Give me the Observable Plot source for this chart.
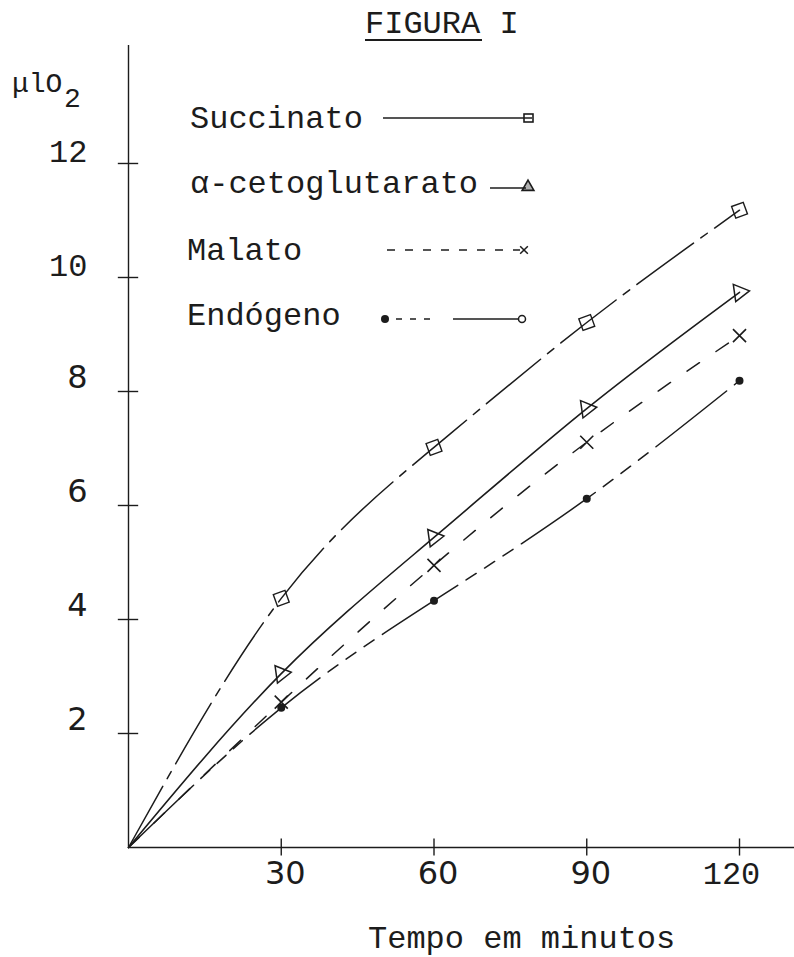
<!DOCTYPE html>
<html>
<head>
<meta charset="utf-8">
<script src="https://cdn.jsdelivr.net/npm/d3@7"></script>
<script src="https://cdn.jsdelivr.net/npm/@observablehq/plot@0.6"></script>
<style>
  html, body { margin: 0; padding: 0; background: #fff; }
  svg { display: block; }
</style>
</head>
<body>
<div id="chart"></div>
<script>
// ---- data ----
const times = [0, 30, 60, 90, 120];
const succinato = [0, 4.37, 7.02, 9.21, 11.18];
const cetoglutarato = [0, 3.05, 5.44, 7.70, 9.74];
const malato = [0, 2.55, 4.95, 7.11, 8.98];
const endogeno = [0, 2.45, 4.33, 6.12, 8.19];
const seriesNames = ["Succinato", "α-cetoglutarato", "Malato", "Endógeno"];
const xTicksSans = [30, 60, 90];
const xTicksMono = [120];
const yTicksSans = [2, 4, 6, 8];
const yTicksMono = [10, 12];
const titleText = "FIGURA I";
const yLabel = "μlO";
const yLabelSub = "2";
const xLabel = "Tempo em minutos";

const INK = "#1c1c1c";
const MONO = "'Liberation Mono', 'DejaVu Sans Mono', monospace";
const SANS = "'DejaVu Sans', sans-serif";

const toRows = (vals) => times.map((t, i) => ({t, v: vals[i]}));
const pts = (vals) => toRows(vals).filter(d => d.t > 0);

const allTicksY = [...yTicksSans, ...yTicksMono];
const allTicksX = [...xTicksSans, ...xTicksMono];
const fmt = d => String(d);

const svg = Plot.plot({
  width: 794,
  height: 957,
  marginLeft: 128,
  marginRight: 0,
  marginTop: 45,
  marginBottom: 110,
  x: {domain: [0, 130.8], axis: null, label: null},
  y: {domain: [0, 14.07], axis: null, label: null},
  style: {background: "#fff", color: INK},
  marks: [
    // axes
    Plot.ruleX([0], {stroke: INK, strokeWidth: 1.4}),
    Plot.ruleY([0], {stroke: INK, strokeWidth: 1.4}),
    Plot.ruleY(allTicksY, {x1: -2, x2: 2, stroke: INK, strokeWidth: 1.4}),
    Plot.ruleX(allTicksX, {y1: -0.15, y2: 0.15, stroke: INK, strokeWidth: 1.4}),
    Plot.axisY(yTicksSans, {label: null, tickFormat: fmt, tickSize: 0, tickPadding: 41, dy: -14, fontSize: 32, fontFamily: SANS, fill: INK}),
    Plot.axisY(yTicksMono, {label: null, tickFormat: fmt, tickSize: 0, tickPadding: 41, dy: -12, fontSize: 32, fontFamily: MONO, fill: INK}),
    Plot.axisX(xTicksSans, {label: null, tickFormat: fmt, tickSize: 0, tickPadding: 14, dx: 4, fontSize: 32, fontFamily: SANS, fill: INK}),
    Plot.axisX(xTicksMono, {label: null, tickFormat: fmt, tickSize: 0, tickPadding: 14, dx: -8, fontSize: 32, fontFamily: MONO, fill: INK}),
    // curves
    Plot.line(toRows(succinato), {x: "t", y: "v", curve: "natural", stroke: INK, strokeWidth: 1.5, strokeDasharray: "70,9,8,9"}),
    Plot.line(toRows(cetoglutarato), {x: "t", y: "v", curve: "natural", stroke: INK, strokeWidth: 1.6}),
    Plot.line(toRows(malato), {x: "t", y: "v", curve: "natural", stroke: INK, strokeWidth: 1.5, strokeDasharray: "15,20"}),
    Plot.line(toRows(endogeno), {x: "t", y: "v", curve: "natural", stroke: INK, strokeWidth: 1.5, strokeDasharray: "90,10,12,10,12,10,12,10"}),
    // markers
    Plot.dot(pts(succinato), {x: "t", y: "v", symbol: "square", r: 7, rotate: -20, stroke: INK, strokeWidth: 1.4, fill: "none"}),
    Plot.dot(pts(cetoglutarato), {x: "t", y: "v", symbol: "triangle", r: 6.5, rotate: 82, stroke: INK, strokeWidth: 1.5, fill: "none"}),
    Plot.dot(pts(malato), {x: "t", y: "v", symbol: "times", r: 6, stroke: INK, strokeWidth: 1.6}),
    Plot.dot(pts(endogeno), {x: "t", y: "v", symbol: "circle", r: 4, fill: INK, stroke: "none"})
  ]
});

document.getElementById("chart").appendChild(svg);

// ---- title, axis labels and legend ----
const s = d3.select(svg);
const txt = (x, y, str, size = 32, fam = MONO) =>
  s.append("text").attr("x", x).attr("y", y).attr("font-family", fam)
   .attr("text-anchor", "start")
   .attr("font-size", size).attr("fill", INK).text(str);

txt(365, 33, titleText);
s.append("line").attr("x1", 365).attr("x2", 482).attr("y1", 40).attr("y2", 40)
  .attr("stroke", INK).attr("stroke-width", 1.8);

txt(12, 92, yLabel, 28);
txt(64, 107, yLabelSub, 28);

txt(368, 948, xLabel);

const legY = [118, 188, 250, 319];
const legBase = [128, 193, 260, 325];
const legX = [190, 190, 187, 187];
seriesNames.forEach((n, i) => txt(legX[i], legBase[i], n));

const seg = (x1, x2, y, dash) => {
  const l = s.append("line").attr("x1", x1).attr("x2", x2).attr("y1", y).attr("y2", y)
    .attr("stroke", INK).attr("stroke-width", 1.5);
  if (dash) l.attr("stroke-dasharray", dash);
};
// Succinato
seg(383, 532, legY[0]);
s.append("rect").attr("x", 524).attr("y", legY[0] - 4).attr("width", 9).attr("height", 8)
  .attr("fill", "none").attr("stroke", INK).attr("stroke-width", 1.6);
// α-cetoglutarato
seg(490, 526, legY[1]);
s.append("path").attr("d", d3.symbol(d3.symbolTriangle, 60)())
  .attr("transform", `translate(528,${legY[1] - 1})`)
  .attr("fill", INK).attr("fill-opacity", 0.35).attr("stroke", INK).attr("stroke-width", 1.6);
// Malato
seg(387, 520, legY[2], "8,10");
s.append("path").attr("d", d3.symbol(d3.symbolTimes, 40)())
  .attr("transform", `translate(524,${legY[2]})`)
  .attr("fill", "none").attr("stroke", INK).attr("stroke-width", 1.5);
// Endógeno
s.append("circle").attr("cx", 385).attr("cy", legY[3]).attr("r", 4).attr("fill", INK);
seg(396, 436, legY[3], "6,8");
seg(453, 518, legY[3]);
s.append("circle").attr("cx", 522).attr("cy", legY[3]).attr("r", 3.5)
  .attr("fill", "#fff").attr("stroke", INK).attr("stroke-width", 1.5);
</script>
</body>
</html>
